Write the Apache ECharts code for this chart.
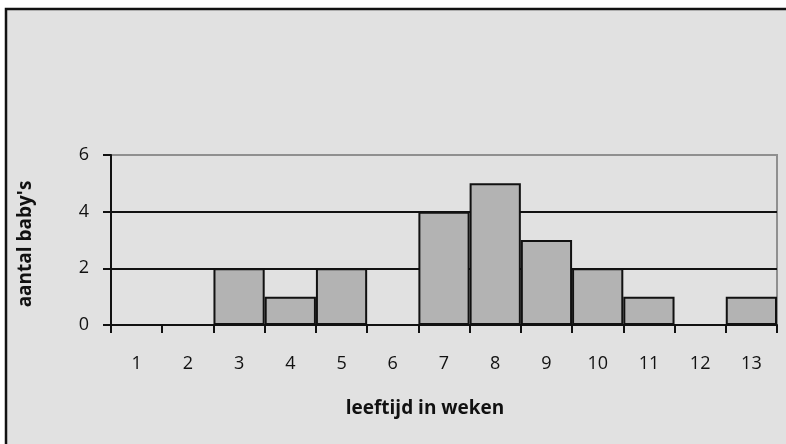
<!DOCTYPE html>
<html>
<head>
<meta charset="utf-8">
<script src="https://cdn.jsdelivr.net/npm/echarts@6/dist/echarts.min.js"></script>
<style>
  html, body { margin: 0; padding: 0; background: #ffffff; }
  #chart { width: 786px; height: 444px; }
</style>
</head>
<body>
<div id="chart"></div>
<script>
// Age in weeks and number of babies per week
const weeks = ['1', '2', '3', '4', '5', '6', '7', '8', '9', '10', '11', '12', '13'];
const babies = [0, 0, 2, 1, 2, 0, 4, 5, 3, 2, 1, 0, 1];
const yTicks = [0, 2, 4, 6];

const FONT = '"Open Sans", "Noto Sans", sans-serif';

const chart = echarts.init(document.getElementById('chart'), null, { renderer: 'canvas' });

chart.setOption({
  backgroundColor: '#ffffff',
  animation: false,
  graphic: [
    {
      type: 'rect',
      z: -10,
      silent: true,
      shape: { x: 6, y: 9, width: 800, height: 460 },
      style: { fill: '#e1e1e1', stroke: '#111', lineWidth: 2.5 }
    },
    {
      type: 'text',
      silent: true,
      rotation: Math.PI / 2,
      x: 26,
      y: 244,
      style: {
        text: "aantal baby's",
        fontFamily: FONT,
        fontWeight: 'bold',
        fontSize: 19,
        fill: '#111',
        align: 'center',
        verticalAlign: 'middle'
      }
    },
    {
      type: 'text',
      silent: true,
      x: 425,
      y: 409,
      style: {
        text: 'leeftijd in weken',
        fontFamily: FONT,
        fontWeight: 'bold',
        fontSize: 19,
        fill: '#111',
        align: 'center',
        verticalAlign: 'middle'
      }
    }
  ],
  grid: {
    left: 111,
    right: 9,
    top: 155,
    bottom: 119,
    show: true,
    backgroundColor: 'transparent',
    borderColor: '#8f8f8f',
    borderWidth: 2
  },
  xAxis: {
    type: 'category',
    data: weeks,
    boundaryGap: true,
    axisLine: { lineStyle: { color: '#111', width: 2 } },
    axisTick: { show: true, length: 8, lineStyle: { color: '#111', width: 2 } },
    axisLabel: { color: '#111', fontFamily: FONT, fontSize: 18, margin: 30 },
    splitLine: { show: false }
  },
  yAxis: {
    type: 'value',
    min: 0,
    max: 6,
    interval: 2,
    axisLine: { show: true, lineStyle: { color: '#111', width: 2 } },
    axisTick: { show: true, length: 8, lineStyle: { color: '#111', width: 2 } },
    axisLabel: {
      color: '#111',
      fontFamily: FONT,
      fontSize: 18,
      margin: 22,
      formatter: v => (yTicks.includes(v) ? String(v) : '')
    },
    splitLine: {
      show: true,
      lineStyle: { color: ['#111', '#111', '#111', '#8f8f8f'], width: 2 }
    }
  },
  series: [
    {
      type: 'bar',
      data: babies,
      barCategoryGap: '0%',
      itemStyle: { color: '#b3b3b3', borderColor: '#111', borderWidth: 2 },
      z: 3
    }
  ]
});
</script>
</body>
</html>
